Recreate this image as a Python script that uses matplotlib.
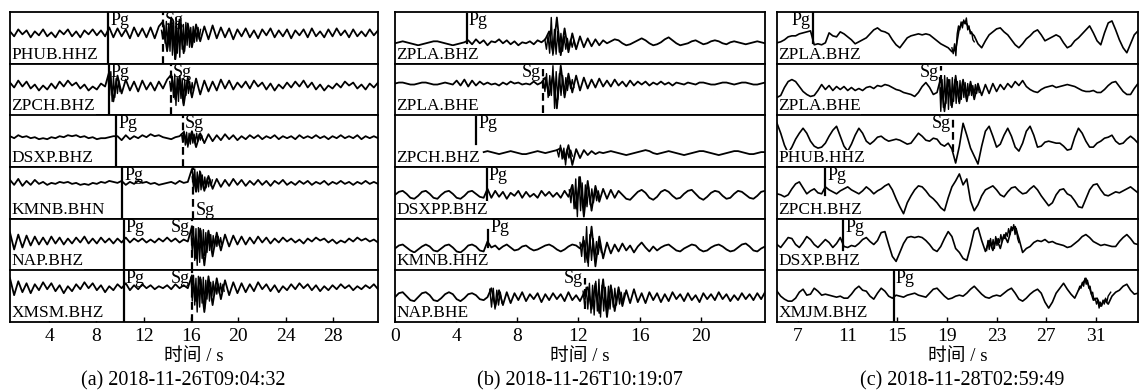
import numpy as np
import matplotlib
matplotlib.use("Agg")
import matplotlib.pyplot as plt

plt.rcParams['font.family'] = ['Liberation Serif', 'Noto Sans CJK SC']

# ---------------- panel (a) ----------------
stations_a = ["PHUB.HHZ", "ZPCH.BHZ", "DSXP.BHZ", "KMNB.BHN", "NAP.BHZ", "XMSM.BHZ"]
span_a = [(0.7, 31.8)] * 6
ticks_a = [4, 8, 12, 16, 20, 24, 28]
picks_a = [[("Pg", 9.0), ("Sg", 13.6)], [("Pg", 9.05), ("Sg", 14.3)],
           [("Pg", 9.7), ("Sg", 15.3)], [("Pg", 10.2), ("Sg", 16.2)],
           [("Pg", 10.3), ("Sg", 16.1)], [("Pg", 10.3), ("Sg", 16.1)]]
trace_a = [
    [2, -3, 4, -1, 3, -4, 2, -2, 4, -3, 1, -4, 3, -1, 4, -3, 2, -4, 3, -1, 4, -2, 3, -3,
     6, -4, 5, -3, 4, -5, 6, -3, 5, -4, 6, -5, 7,
     12, -18, 16, -26, 14, -20, 10, -14, 9,
     -8, 7, -6, 8, -5, 6, -4, 5, -6, 4, -3, 5, -4, 3, -5, 4, -2, 5, -4, 3, -3, 4, -5, 3, -2, 4,
     -4, 5, -3, 2, -4, 4, -3, 5, -2, 3, -4, 4, -3, 2, -3, 4, -2, 3],
    [3, -2, 5, -1, 4, -3, 1, -5, 0, -4, 2, -3, 4, -1, 5, 0, 3, -3, 1, -5, -1, -4, 2, -1,
     14, -16, 10, -8, 6, -5, 4, -6, 5, -4, 3, -5, 4, -3, 6,
     11, -14, 9, -20, 8, -12, 7, -9,
     5, -6, 4, -5, 6, -3, 5, -4, 3, -2, 4, -3, 5, -1, 3, -4, 2, -5, 1, -3, 3, -2, 4, -1, 5, -2,
     3, -4, 1, -5, 0, -3, 2, -2, 4, 0, 3, -3, 1, -4, 2, -2, 3],
    [1, -1, 2, 0, 1, -1, 0, -2, -1, -2, 0, -1, 1, 0, 2, 1, 2, 0, 1, -1, 0, -2, -1, -1, 0, 1,
     1, -3, 2, -2, 1, -1, 2, 0, 3, 1, 2, 0, -1, -2, 0, 1,
     5, -8, 6, -10, 4, -6,
     3, -4, 2, -3, 3, -2, 2, -3, 1, -2, 2, -1, 2, -2, 1, -1, 2, -2, 1, -1, 1, -2, 2, -1, 1, -1,
     2, -1, 1, -2, 1, -1, 2, -1, 1, -1, 2, -2, 1, -1, 1, -1],
    [3, -2, 4, -3, 2, -2, 3, -1, 1, -2, 0, -1, 1, 0, 1, -1, 0, -2, -1, -2, 0, -1, 1, 0, 2, 1, 0,
     2, -2, 1, -1, 2, 0, 1, -1, 0, -2, -1, 0, 1, -1, 2, 0, 1,
     14, -9, 11, -8, 7, -6,
     4, -4, 3, -3, 4, -2, 3, -3, 2, -2, 3, -2, 2, -3, 2, -1, 3, -2, 1, -2, 2, -1, 2, -2, 1, -1,
     2, -2, 1, -1, 2, -1, 1, -2, 1, -1, 2, -1, 1, -1],
    [8, -9, 6, -7, 5, -5, 4, -4, 3, -4, 4, -3, 3, -4, 2, -3, 3, -2, 4, -3, 2, -3, 3, -2, 2, -3, 2, -2,
     3, -2, 2, -1, 2, -2, 1, -2, 2, -1, 3, -1, 2, -2, 1, -1,
     14, -18, 12, -25, 10, -16, 8, -10,
     6, -6, 5, -4, 4, -4, 3, -3, 4, -2, 3, -3, 2, -2, 3, -1, 2, -2, 1, -3, 2, -1, 3, 0, 2, -2,
     1, -3, 0, -2, 2, -1, 3, 0, 2, -1, 1, -2],
    [9, -8, 6, -5, 4, -6, 3, -3, 5, -2, 4, -4, 2, -6, 1, -4, 3, -2, 5, -1, 4, -3, 2, -5, 1, -3, 3, -1,
     4, -3, 2, -2, 3, -1, 2, -2, 1, -1, 2, -2, 3, -1, 2, -1,
     12, -14, 10, -25, 11, -18, 9, -12, 7,
     -8, 5, -6, 4, -5, 3, -4, 5, -2, 3, -4, 2, -5, 1, -3, 3, -2, 4, -1, 3, -3, 2, -4, 1, -3, 2,
     -2, 3, -1, 2, -3, 1, -2, 2, -1, 3, -2],
]
# finer-sampled energetic parts (start, end, values)
burst_a = [
    [(13.5, 16.8, [3, -5, 8, -10, 12, -14, 10, -18, 14, -22, 12, -26, 16, -20, 10, -24, 13,
                   -16, 9, -18, 11, -12, 8, -14, 6, -10, 7, -9, 5, -8, 6, -6, 4])],
    [(9.0, 10.0, [6, -10, 14, -16, 9, -12, 7, -8, 5, -6]),
     (14.2, 16.2, [4, -6, 9, -12, 11, -20, 8, -16, 10, -13, 7, -18, 6, -10, 5, -8, 4, -7, 3, -5])],
    [(15.2, 17.0, [3, -5, 6, -8, 5, -10, 4, -7, 5, -6, 3, -5, 4, -4, 3, -3, 2, -3])],
    [(16.1, 17.8, [6, -4, 14, -8, 11, -9, 12, -7, 8, -6, 6, -5, 5, -4, 4, -3, 3])],
    [(16.0, 18.6, [8, -12, 14, -20, 12, -25, 13, -22, 10, -18, 11, -15, 8, -12, 9, -10, 6, -9,
                   5, -7, 4, -6, 4, -5, 3, -4])],
    [(16.0, 18.8, [10, -14, 12, -18, 9, -25, 11, -20, 8, -16, 10, -22, 7, -12, 6, -14, 5, -9,
                   6, -8, 4, -7, 3, -6, 4, -5, 3, -4])],
]

# ---------------- panel (b) ----------------
stations_b = ["ZPLA.BHZ", "ZPLA.BHE", "ZPCH.BHZ", "DSXPP.BHZ", "KMNB.HHZ", "NAP.BHE"]
span_b = [(0, 24.2), (0, 24.2), (5.8, 24.2), (0, 24.2), (0, 24.2), (0, 24.2)]
ticks_b = [0, 4, 8, 12, 16, 20]
picks_b = [[("Pg", 4.7)], [("Sg", 9.7)], [("Pg", 5.3)],
           [("Pg", 6.0)], [("Pg", 6.1)], [("Sg", 12.4)]]
trace_b = [
    [0, 1, 2, 1, 0, -1, -2, -1, 0, 1, 2, 2, 1, 0, -1, -2, -1, 0, 1,
     3, -1, 4, 0, 3, -2, 2, 1, 4, 0, 3, -1, 2, -2, 1, 0, 2, -1, 3, 1, 4,
     12, -10, 26, -12, 15, -9, 10,
     -6, 7, -4, 5, -3, 4, -2, 3, 0, 2, 4, 3, 0, -2, -1, 1, 3, 5, 3, 0, -2, -1, 1, 4, 6, 3, 0, -2,
     -1, 0, 2, 3, 1, -1, 0, 2, 3, 2, 0, -1, 1, 2, 1, 0, -1, 0, 1, 2, 1, 0],
    [0, 1, 1, 0, -1, -1, 0, 1, 1, 0, -1, -1, 0, 1, 0, -1,
     3, -2, 4, -3, 3, -2, 2, -1,
     1, -1, 0, -2, 1, -1, 2, 0, 1, -1, 0, -1, 2, -1, 1,
     6, -12, 9, -25, 18, -14, 10, -9, 8,
     -7, 6, -5, 4, -4, 5, -3, 3, -3, 4, -2, 2, -3, 3, -2, 2, -1, 2, -2, 1, -1, 2, -1, 1, -2, 1,
     0, -1, 1, 0, -1, 1, 1, 0, -1, -1, 0, 1, 1, 0, -1, 0, 1, 1, 0, -1, -1, 0, 1],
    [1, 2, 1, 0, -1, 0, 1, 2, 1, 0, -1, -1, 0, 1, 2, 1, 0, 1, 2, 3,
     5, -6, 8, -12, 4, -5,
     3, -2, 2, -1, 1, 0, 1, 2, 1, 0, -1, -2, -1, 0, 1, 2, 3, 2, 0, -1, 0, 1, 2, 1, 0, -1,
     -2, -1, 0, 1, 2, 2, 1, 0, -1, -2, -1, 0, 1, 2, 2, 1, 0, -1, -1, 0, 1, 1],
    [0, 3, 4, 1, -3, -4, -1, 3, 4, 1, -3, -4, 0, 3, 4, 1, -3, -4, -1, 3, 4, 1, -2, -3,
     6, -3, 4, -2, 3, -4, 2, -1, 4, -3, 3, -2, 1, -3, 4, -1, 3, -2, 2, -3, 4, -2,
     10, -14, 18, -22, 14, -16, 9,
     -7, 6, -4, 5, -3, 4, 0, -4, -5, -1, 3, 5, 2, -3, -5, -2, 3, 5, 3, -1, -4, -3, 1, 4, 5, 1,
     -3, -5, -2, 2, 4, 3, -1, -4, -3, 1, 4, 3, 0, -3, -4, -1, 3, 4],
    [0, 3, 4, 1, -2, -4, -1, 2, 4, 2, -2, -3, 0, 3, 4, 1, -3, -4, -1, 3, 4, 2, -2, -3,
     7, 1, 3, -1, 2, 4, 1, -2, -1, 2, 3, 0, -2, -1, 1, 3, 4, 2, -1, -3, -1, 2, 4, 3, 0,
     8, -14, 22, -18, 12, -10,
     6, -5, 4, -3, 5, -2, 3, -4, 2, 6, 1, -3, 2, -2, 1, 3, 4, 1, -2, -3, 0, 2, 4, 3, -1, -3,
     -2, 1, 3, 4, 2, -1, -3, -2, 1, 4, 5, 2, -2, -3, 0, 2],
    [0, 4, 5, 1, -3, -4, 0, 4, 5, 2, -3, -4, -1, 3, 5, 3, -2, -4, -1, 3, 4, 2, -2, -3, 0,
     9, -10, 7, -8, 5, -6,
     4, -3, 5, -4, 3, -2, 4, -5, 3, -3, 4, -2, 3, -4, 5, -3, 2, -4, 4,
     10, -12, 14, -16, 18, -20, 12, -14, 10, -9,
     7, -6, 8, -5, 4, -6, 5, -3, 4, -5, 3, -4, 5, -2, 3, -4, 4, -3, 2, -5, 4, -2, 3, -3, 5, -2,
     3, -4, 2, -3, 4, -2, 3, -3, 4, -2, 5],
]
burst_b = [
    [(9.8, 11.8, [4, -6, 8, -10, 26, -12, 14, -11, 12, -9, 10, -8, 7, -6, 5, -5, 4, -4, 3, -3])],
    [(9.7, 11.7, [5, -8, 10, -14, 8, -12, 18, -25, 12, -16, 10, -12, 8, -10, 6, -7, 5, -5, 4, -4])],
    [(10.6, 11.6, [3, -4, 8, -6, 5, -12, 4, -5, 3, -3])],
    [(11.4, 13.4, [5, -8, 10, -14, 16, -22, 18, -16, 12, -18, 10, -12, 8, -10, 6, -8, 5, -6, 4, -4])],
    [(12.1, 13.5, [6, -8, 12, -14, 22, -18, 14, -12, 10, -10, 7, -6, 5, -4])],
    [(6.2, 7.0, [8, -10, 9, -12, 7, -8, 5, -6]),
     (12.3, 15.0, [6, -8, 10, -12, 14, -16, 12, -18, 16, -14, 18, -20, 12, -14, 10, -16, 11, -12,
                   8, -10, 9, -8, 6, -7, 5, -6, 4])],
]

# ---------------- panel (c) ----------------
stations_c = ["ZPLA.BHZ", "ZPLA.BHE", "PHUB.HHZ", "ZPCH.BHZ", "DSXP.BHZ", "XMJM.BHZ"]
span_c = [(5.3, 34.4)] * 6
ticks_c = [7, 11, 15, 19, 23, 27, 31]
picks_c = [[("Pg", 8.2)], [("Sg", 18.5)], [("Sg", 19.5)],
           [("Pg", 9.2)], [("Pg", 10.65)], [("Pg", 14.7)]]
trace_c = [
    [-5, -4, -2, 1, 2, 2, 4, 5, 6, 7, -7, -6, -7, -5, 5, 2, 1, 6, 4, 1,
     -2, -6, -4, -2, 0, 4, 8, 10, 7, 6, 4, -2, -7, -10, -5, 0, 2, 3, 4, 3,
     4, 3, 0, -3, -6, -8, -10, -14, -12, 10, 16, 14, 6, 2, -6, -10, -3, 3, 6, 9,
     10, 6, 3, -2, -7, -10, -6, -1, 2, 6, 8, 3, -3, -1, 1, 3, 1, -5, -10, -8,
     -3, 0, 4, 8, 12, 5, -3, -7, 5, 15, 17, 8, -2, -10, -15, -6, 3, 7],
    [-8, -6, 2, 8, 10, 8, 3, -2, -5, -7, -6, -1, 5, 0, 4, -1, 3, 0, 3, -1,
     2, -1, 1, -1, 2, 3, 1, 4, 3, 5, 4, 2, 0, -1, -3, -4, -5, -7, -3, 3,
     7, 2, -5, -3, 12, -22, 10, -18, 14, -14, 10, -12, 8, -10, 6, -6, 5, -4, 6, -2,
     5, 0, 6, 2, 8, 4, 9, 3, 0, -2, -3, 0, 2, 3, 4, 2, 3, 4, 5, 4,
     3, 1, -1, -2, -2, -1, -3, -3, 0, 4, 7, 8, 3, -2, -5, -5, 1, 6],
    [18, 8, -4, -12, -6, 2, 8, 13, 8, 0, -5, -7, -6, -2, 5, 11, 15, 5, -5, -10,
     -3, 6, 13, 8, 0, -3, 0, 4, 5, 2, 0, 1, 2, 1, -1, -3, -2, 3, 8, 5,
     1, 0, 3, 2, -3, -5, -2, -8, -22, -5, 18, 6, -7, -15, -23, -5, 10, 15, 5, -6,
     -3, 6, 13, 5, -6, -10, -2, 10, 15, 6, -6, -5, -1, 0, -1, -2, -2, -5, -9, -8,
     4, 13, 8, 0, -6, -6, -2, 0, 3, 4, 6, 0, -3, -2, 2, 5, 2, -2],
    [-1, -2, -4, -2, 4, 9, 11, 5, -1, 2, 4, 0, -1, 6, 3, 1, -1, 2, 4, 6,
     3, 1, -1, 2, 6, 3, -1, 2, 4, 7, 9, 3, -6, -14, -21, -10, -3, 3, 7, 6,
     2, -3, -6, -10, -15, -18, -5, 6, 12, 19, 8, 14, -8, -18, -12, -3, 3, 5, 7, 3,
     -2, -4, 1, 5, 6, 2, -1, 0, 4, 7, 3, -3, -8, -13, -10, -2, 3, 4, -1, -3,
     -8, -14, -15, -6, 3, 8, 9, 3, -2, -3, -1, 1, 0, 2, 4, 6, 3, 0],
    [0, -3, 2, 7, 6, 0, -3, 2, 8, 5, 0, -3, 1, 5, 2, -3, 1, 7, -2, -3,
     -1, -2, 1, 5, 7, 3, 0, 4, 12, 13, 0, -12, -17, -8, 1, 7, 8, 7, 8, 7,
     4, 0, -5, -7, -2, 6, 13, 8, -4, -8, -14, -16, -2, 14, 17, 4, -7, 4, -6, 6,
     -4, 10, 2, 16, 18, 6, -8, -4, -2, 2, 4, 3, 5, 2, 3, 1, 0, -1, -3, -2,
     1, 4, 8, 10, 7, 3, 1, -1, 0, -1, -2, -2, 3, 7, 10, 6, 1, 0],
    [5, 0, -3, -5, -5, -2, 4, 7, 1, 2, 8, 5, 1, 2, 1, 0, -1, 0, -2, -2,
     2, 7, 10, 6, 5, 0, -3, 3, 8, 5, 0, -2, 1, 0, -1, 1, 2, 3, 1, 0,
     -1, 3, 7, 8, 4, 0, -3, -2, 0, 1, 0, 3, 7, 10, 6, 2, -1, -2, 0, 1,
     0, 3, 6, 8, 3, -3, -5, -2, 2, 5, 7, 3, -6, -12, -6, 3, 8, 13, 7, 2,
     -2, 6, 12, 18, 8, -4, -2, -10, -4, -8, 0, 4, 6, 10, 12, 6, 2, 3],
]
burst_c = [
    [(19.4, 21.2, [-10, -16, -6, -18, 4, 12, 8, 16, 10, 18, 14, 20, 8, 12, 4, 6, -2, -4])],
    [(18.4, 21.6, [12, -22, 10, -18, 14, -14, 12, -20, 10, -16, 12, -12, 10, -14, 8, -12, 9, -10,
                   8, -8, 7, -9, 6, -6, 5, -6, 4, -5, 5, -4, 4, -3])],
    [],
    [],
    [(22.2, 24.8, [-6, 4, -5, 6, -3, 5, -4, 8, -1, 6, 2, 10, 3, 8, 6, 12, 8, 16, 10, 18, 14, 20,
                   10, 16, 6, 2])],
    [(29.6, 32.2, [6, 10, 8, 14, 10, 18, 12, 16, 8, 10, 2, 4, -4, -2, -8, -4, -12, -6, -10, -4,
                   -8, -2, -6, 0, 2, 4])],
]

W, H = 1139, 391
fig = plt.figure(figsize=(W / 100, H / 100), dpi=100)

TOP, BOTTOM = 12, 322
row_h = (BOTTOM - TOP) / 6


def draw_panel(x0, x1, xlim, ticks, stations, spans, traces, bursts, picks, offsets,
               pick_spans, label_side, caption, text_x, lw):
    for i in range(6):
        y_top = TOP + i * row_h
        ax = fig.add_axes([x0 / W, 1 - (y_top + row_h) / H, (x1 - x0) / W, row_h / H])
        vals = np.array(traces[i], dtype=float) + offsets[i]
        t = np.linspace(spans[i][0], spans[i][1], len(vals))
        ax.plot(t, vals, color='black', lw=lw, zorder=2)
        for b0, b1, bv in bursts[i]:
            bv = np.array(bv, dtype=float) + offsets[i]
            ax.plot(np.linspace(b0, b1, len(bv)), bv, color='black', lw=1.0, zorder=2)
        ax.set_xlim(*xlim)
        ax.set_ylim(-26, 26)
        ax.set_yticks([])
        for s in ax.spines.values():
            s.set_linewidth(1.3)
        ax.text(0.004, 0.02, stations[i], transform=ax.transAxes, fontsize=12.5,
                ha='left', va='bottom', zorder=4,
                bbox=dict(facecolor='white', edgecolor='none', pad=0.3))
        for j, (name, tp) in enumerate(picks[i]):
            lo, hi = pick_spans[i][j]
            ax.axvline(tp, ymin=lo, ymax=hi, color='black', lw=1.6, zorder=3,
                       ls='-' if name == 'Pg' else (0, (3.5, 2)))
            side = label_side[i][j]
            if side == 'r':
                ax.annotate(name, (tp, 1), xycoords=('data', 'axes fraction'),
                            xytext=(1.5, 0), textcoords='offset points',
                            ha='left', va='top', fontsize=13, zorder=5)
            elif side == 'l':
                ax.annotate(name, (tp, 1), xycoords=('data', 'axes fraction'),
                            xytext=(-1.5, 0), textcoords='offset points',
                            ha='right', va='top', fontsize=13, zorder=5)
            else:
                ax.annotate(name, (tp, 0), xycoords=('data', 'axes fraction'),
                            xytext=(1.5, 0), textcoords='offset points',
                            ha='left', va='bottom', fontsize=13, zorder=5)
        if i < 5:
            ax.set_xticks([])
        else:
            ax.set_xticks(ticks)
            ax.tick_params(axis='x', direction='in', length=3.5, width=1.0,
                           labelsize=14, pad=4)
    xc = (x0 + x1) / 2 / W
    fig.text(xc, 1 - 357 / H, "时间 / s", ha='center', va='center', fontsize=13.5)
    fig.text(text_x / W, 1 - 381 / H, caption, ha='center', va='center', fontsize=14.5)


draw_panel(10, 378, (0.7, 31.8), ticks_a, stations_a, span_a, trace_a, burst_a, picks_a,
           [4.5, 4, 4, 10, 4, 9],
           [[(0, 1), (0, 1)]] * 6,
           [['r', 'r'], ['r', 'r'], ['r', 'r'], ['r', 'b'], ['r', 'l'], ['r', 'l']],
           "(a) 2018-11-26T09:04:32", 183, 1.3)
draw_panel(395, 765, (0, 24.2), ticks_b, stations_b, span_b, trace_b, burst_b, picks_b,
           [-5.5, 6, -12, -2, -4, -1],
           [[(0.4, 0.97)], [(0.05, 0.9)], [(0.45, 0.97)], [(0.35, 0.97)],
            [(0.45, 0.78)], [(0.25, 0.85)]],
           [['r'], ['l'], ['r'], ['r'], ['r'], ['l']],
           "(b) 2018-11-26T10:19:07", 580, 1.3)
draw_panel(777, 1138, (5.3, 34.4), ticks_c, stations_c, span_c, trace_c, burst_c, picks_c,
           [0, 0, 0, 0, 0, 0],
           [[(0.4, 1)], [(0.4, 0.95)], [(0.3, 0.95)], [(0.45, 0.97)],
            [(0.4, 0.97)], [(0, 1)]],
           [['l'], ['l'], ['l'], ['r'], ['r'], ['r']],
           "(c) 2018-11-28T02:59:49", 962, 1.2)

fig.savefig("out.png", dpi=100)
